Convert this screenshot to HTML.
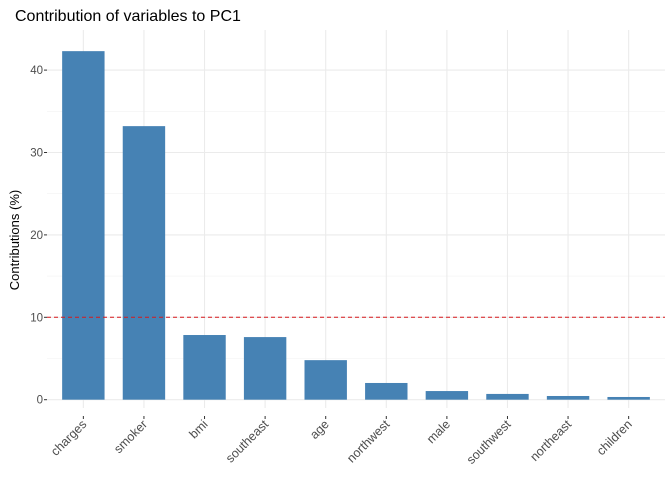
<!DOCTYPE html>
<html><head><meta charset="utf-8"><style>
body{margin:0;background:#fff;font-family:"Liberation Sans",sans-serif}
</style></head><body>
<svg id="chart" width="672" height="480" xmlns="http://www.w3.org/2000/svg">
<text x="15" y="21" font-size="16" fill="#000">Contribution of variables to PC1</text>
<text transform="translate(19,240) rotate(-90)" text-anchor="middle" font-size="13" fill="#000">Contributions (%)</text>
<g id="grid"></g><g id="bars"></g><g id="axes"></g>
</svg>
<script>
const categories=["charges","smoker","bmi","southeast","age","northwest","male","southwest","northeast","children"];
const values=[42.3,33.2,7.85,7.6,4.8,2.03,1.05,0.7,0.45,0.33];
const yTicks=[0,10,20,30,40];
const yMinor=[5,15,25,35];
const cutoff=10;
const NS="http://www.w3.org/2000/svg";
const pl=47,pr=665,pt=30,y0=399.7,ppu=8.24;
const unit=(pr-pl)/(categories.length+0.2);
const x=i=>pl+unit*(0.6+i);
const y=v=>y0-v*ppu;
function mk(tag,attrs,parent){const e=document.createElementNS(NS,tag);for(const k in attrs)e.setAttribute(k,attrs[k]);document.getElementById(parent).appendChild(e);return e;}
yMinor.forEach(v=>{const l=mk('line',{x1:pl,x2:pr,y1:y(v),y2:y(v),stroke:'#f2f2f2','stroke-width':0.6},'grid');

});
yTicks.forEach(v=>{const l=mk('line',{x1:pl,x2:pr,y1:y(v),y2:y(v),stroke:'#ebebeb','stroke-width':1.1},'grid');


const t=mk('text',{x:43,y:y(v)+4,'text-anchor':'end','font-size':11.5,fill:'#4d4d4d'},'axes');t.textContent=v;


mk('line',{x1:44,x2:47,y1:y(v),y2:y(v),stroke:'#333'},'axes');});
categories.forEach((c,i)=>{const cx=x(i);
const g=mk('line',{x1:cx,x2:cx,y1:pt,y2:408,stroke:'#ebebeb','stroke-width':1.1},'grid');


const bw=unit*0.7;
const b=mk('rect',{x:cx-bw/2,y:y(values[i]),width:bw,height:values[i]*ppu,fill:'#4682b4'},'bars');


mk('line',{x1:cx,x2:cx,y1:416,y2:419,stroke:'#333'},'axes');
const t=mk('text',{transform:`translate(${cx+4},${425}) rotate(-45)`,'text-anchor':'end','font-size':12.5,fill:'#4d4d4d'},'axes');t.textContent=c;

});
const d=mk('line',{x1:pl,x2:pr,y1:y(cutoff),y2:y(cutoff),stroke:'#d7191c','stroke-dasharray':'4,3','stroke-width':1},'bars');


</script>
</body></html>
